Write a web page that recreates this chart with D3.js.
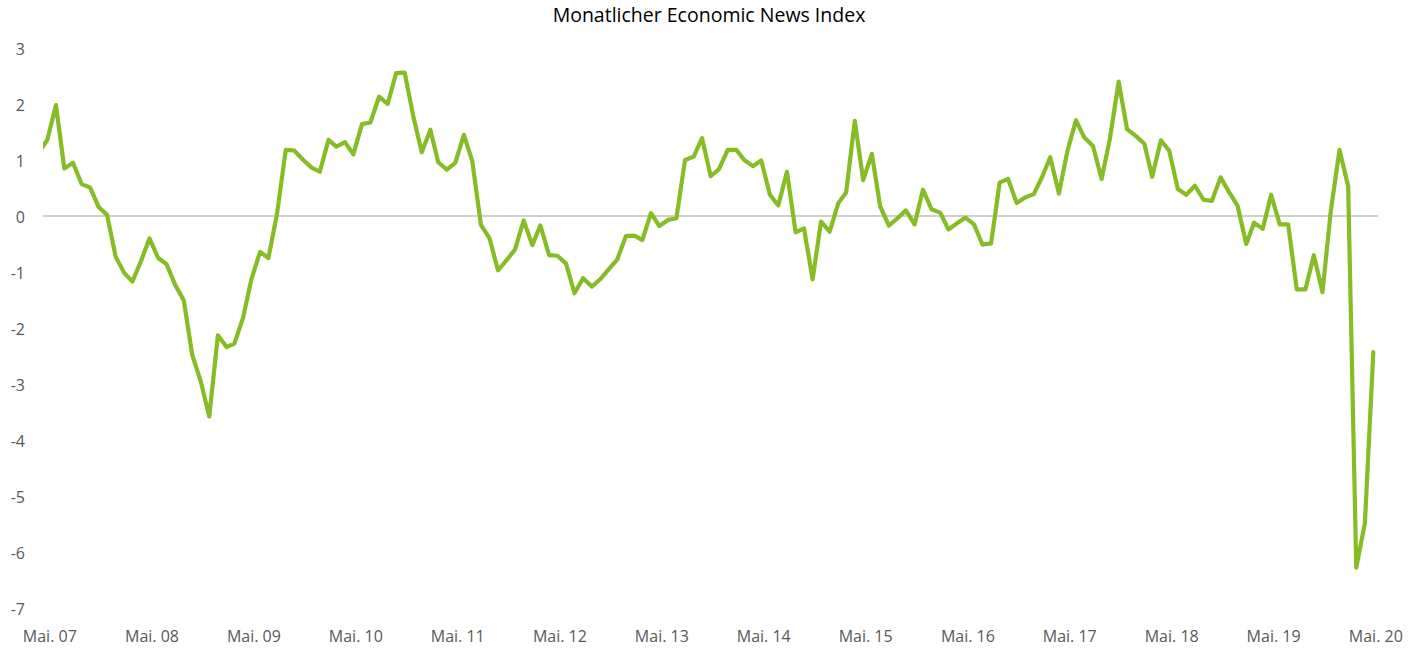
<!DOCTYPE html>
<html>
<head>
<meta charset="utf-8">
<script src="https://cdn.jsdelivr.net/npm/d3@7"></script>
<style>
  body { margin: 0; background: #fff; }
  text { font-family: "Open Sans", "Noto Sans", sans-serif; }
</style>
</head>
<body>
<svg id="chart"></svg>
<script>
// monthly index, Apr 2007 .. Mai 2020 (first month sits just left of the plot and is clipped)
const firstMonth = new Date(2007, 3, 1)
const values = [
  1.13, 1.36, 1.98, 0.85, 0.95, 0.57, 0.51, 0.16, 0.02, -0.73, -1.02, -1.17, -0.80,
  -0.40, -0.75, -0.86, -1.23, -1.51, -2.48, -2.96, -3.58, -2.13, -2.34, -2.28, -1.82,
  -1.13, -0.64, -0.75, 0.05, 1.18, 1.17, 1.01, 0.87, 0.79, 1.36, 1.24, 1.32,
  1.10, 1.64, 1.67, 2.13, 2.00, 2.55, 2.56, 1.80, 1.14, 1.54, 0.96, 0.83,
  0.95, 1.45, 0.98, -0.16, -0.40, -0.97, -0.79, -0.60, -0.08, -0.52, -0.17, -0.70,
  -0.71, -0.85, -1.38, -1.11, -1.26, -1.13, -0.95, -0.78, -0.36, -0.35, -0.43, 0.05,
  -0.18, -0.07, -0.04, 1.00, 1.06, 1.39, 0.71, 0.84, 1.18, 1.18, 1.00, 0.89,
  0.99, 0.38, 0.19, 0.79, -0.29, -0.22, -1.13, -0.10, -0.28, 0.23, 0.42, 1.70,
  0.64, 1.11, 0.17, -0.17, -0.04, 0.10, -0.15, 0.47, 0.12, 0.06, -0.24, -0.13,
  -0.03, -0.15, -0.51, -0.49, 0.60, 0.66, 0.23, 0.33, 0.39, 0.71, 1.05, 0.40,
  1.15, 1.71, 1.40, 1.25, 0.66, 1.39, 2.40, 1.55, 1.43, 1.29, 0.70, 1.35,
  1.17, 0.48, 0.38, 0.54, 0.29, 0.27, 0.69, 0.43, 0.18, -0.50, -0.12, -0.23,
  0.38, -0.15, -0.15, -1.31, -1.31, -0.70, -1.36, 0.10, 1.18, 0.53, -6.28, -5.48,
  -2.43
]
const tickLabels = ["Mai. 07", "Mai. 08", "Mai. 09", "Mai. 10", "Mai. 11", "Mai. 12", "Mai. 13",
                    "Mai. 14", "Mai. 15", "Mai. 16", "Mai. 17", "Mai. 18", "Mai. 19", "Mai. 20"]
const yTicks = [3, 2, 1, 0, -1, -2, -3, -4, -5, -6, -7]
const title = "Monatlicher Economic News Index"

const width = 1421, height = 648
const plot = {left: 43, right: 1378}

const data = values.map((v, i) => ({date: d3.timeMonth.offset(firstMonth, i), value: v}))
const tickDates = tickLabels.map((d, i) => new Date(2007 + i, 4, 1))

const x = d3.scaleTime()
      .domain([tickDates[0], tickDates[tickDates.length - 1]])
      .range([47.3, 1373.3])
const y = d3.scaleLinear()
      .domain([-7, 3])
      .range([608, 48])

const svg = d3.select("#chart")
      .attr("width", width)
      .attr("height", height)

svg.append("text")
    .attr("x", 709)
    .attr("y", 17)
    .attr("text-anchor", "middle")
    .attr("dominant-baseline", "middle")
    .style("font-size", "19.5px")
    .style("fill", "#000")
    .text(title)

// y labels, plain hyphen for negatives
svg.append("g")
    .attr("transform", "translate(25,1)")
    .call(d3.axisLeft(y).tickValues(yTicks).tickSize(0).tickPadding(0).tickFormat(d => String(d)))
    .call(g => g.select(".domain").remove())
    .call(g => g.selectAll("text")
        .style("font-size", "16px")
        .style("font-family", "\"Open Sans\", sans-serif")
        .attr("fill", "#595959"))

// x labels
svg.append("g")
    .attr("transform", "translate(2,631)")
    .call(d3.axisBottom(x).tickValues(tickDates).tickSize(0).tickPadding(0)
        .tickFormat((d, i) => tickLabels[i]))
    .call(g => g.select(".domain").remove())
    .call(g => g.selectAll("text")
        .style("font-size", "16px")
        .style("font-family", "\"Open Sans\", sans-serif")
        .attr("fill", "#595959"))

// zero line
svg.append("line")
    .attr("x1", plot.left)
    .attr("x2", plot.right)
    .attr("y1", y(0))
    .attr("y2", y(0))
    .attr("stroke", "#bfbfbf")
    .attr("stroke-width", 1.3)

svg.append("clipPath")
    .attr("id", "plotclip")
  .append("rect")
    .attr("x", plot.left)
    .attr("y", 0)
    .attr("width", plot.right - plot.left)
    .attr("height", height)

const line = d3.line()
      .x(d => x(d.date))
      .y(d => y(d.value))

svg.append("path")
    .datum(data)
    .attr("clip-path", "url(#plotclip)")
    .attr("d", line)
    .attr("fill", "none")
    .attr("stroke", "#86bc25")
    .attr("stroke-width", 4.2)
    .attr("stroke-linejoin", "round")
    .attr("stroke-linecap", "round")
</script>
</body>
</html>
